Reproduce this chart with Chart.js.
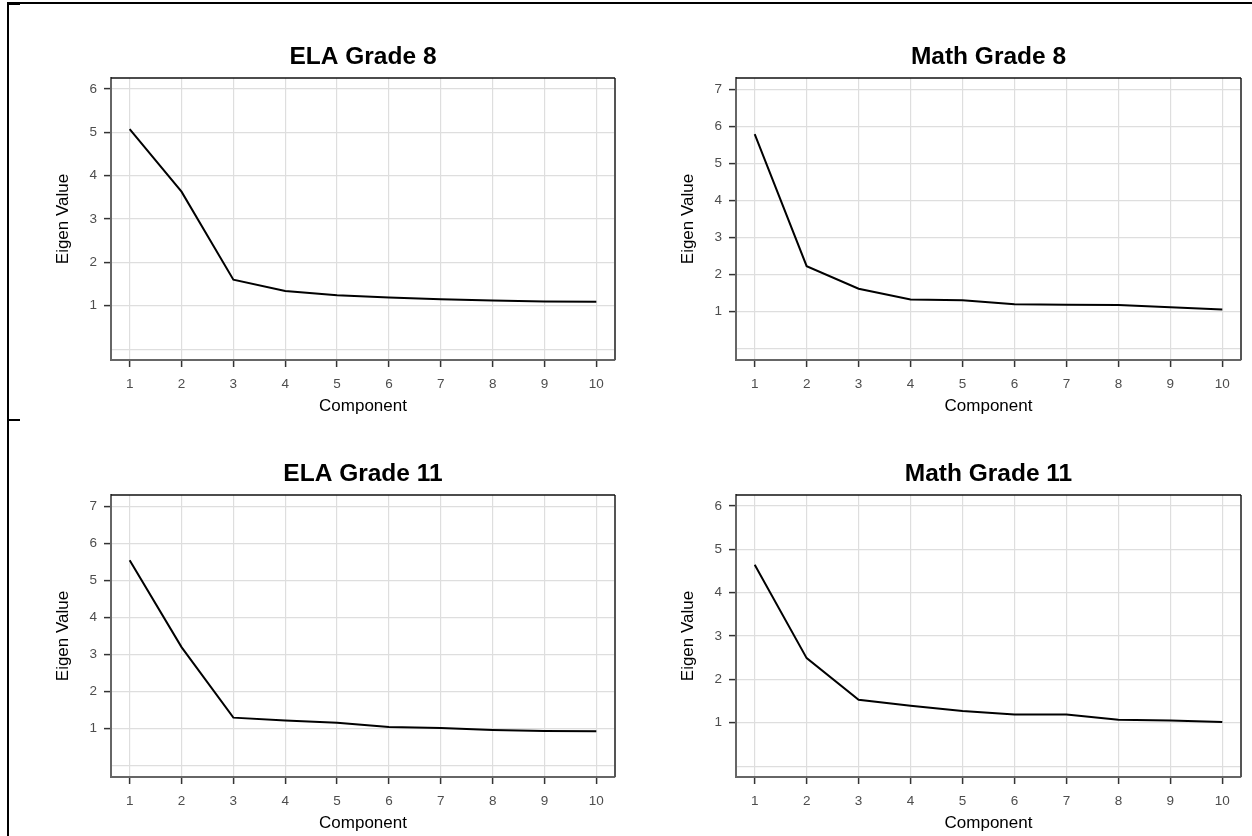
<!DOCTYPE html>
<html>
<head>
<meta charset="utf-8">
<script src="https://cdn.jsdelivr.net/npm/chart.js@4.4.0/dist/chart.umd.min.js"></script>
<style>
  html, body { margin: 0; padding: 0; background: #fff; }
  body { width: 1252px; height: 836px; position: relative; overflow: hidden; }
  canvas { position: absolute; }
  .deco { position: absolute; background: #000; }
</style>
</head>
<body>
<div class="deco" style="left:7px;top:2px;width:1245px;height:1.5px;"></div>
<div class="deco" style="left:7px;top:2px;width:2px;height:834px;"></div>
<div class="deco" style="left:7px;top:2px;width:13px;height:2.5px;"></div>
<div class="deco" style="left:7px;top:419px;width:13px;height:2px;"></div>

<canvas id="c1" width="620" height="400" style="left:20px;top:20px;"></canvas>
<canvas id="c2" width="605" height="400" style="left:645px;top:20px;"></canvas>
<canvas id="c3" width="620" height="400" style="left:20px;top:437px;"></canvas>
<canvas id="c4" width="605" height="400" style="left:645px;top:437px;"></canvas>

<script>
// ---- data ----
const components = [1, 2, 3, 4, 5, 6, 7, 8, 9, 10];
const xTicks = [1, 2, 3, 4, 5, 6, 7, 8, 9, 10];
const yTicksTo6 = [0, 1, 2, 3, 4, 5, 6];
const yTicksTo7 = [0, 1, 2, 3, 4, 5, 6, 7];

const elaGrade8   = [5.07, 3.63, 1.60, 1.34, 1.24, 1.19, 1.15, 1.12, 1.10, 1.09];
const mathGrade8  = [5.79, 2.23, 1.62, 1.33, 1.31, 1.20, 1.19, 1.18, 1.12, 1.06];
const elaGrade11  = [5.54, 3.20, 1.30, 1.22, 1.16, 1.05, 1.02, 0.97, 0.94, 0.93];
const mathGrade11 = [4.64, 2.49, 1.53, 1.39, 1.27, 1.19, 1.19, 1.07, 1.05, 1.02];

const titles = ['ELA Grade 8', 'Math Grade 8', 'ELA Grade 11', 'Math Grade 11'];
const xTitle = 'Component';
const yTitle = 'Eigen Value';

// ---- drawing ----
const FONT = "'Liberation Sans', Arial, sans-serif";

const framePlugin = {
  id: 'frame',
  afterDatasetsDraw(chart) {
    const { ctx, chartArea: a } = chart;
    ctx.save();
    ctx.strokeStyle = '#555';
    ctx.lineWidth = 2;
    ctx.beginPath();
    ctx.moveTo(a.right, a.top);
    ctx.lineTo(a.right, a.bottom);
    ctx.stroke();
    ctx.strokeStyle = '#111';
    ctx.lineWidth = 1.5;
    ctx.beginPath();
    ctx.moveTo(a.left, a.top);
    ctx.lineTo(a.right, a.top);
    ctx.stroke();
    ctx.restore();
  }
};

function makeChart(id, title, values, yTicks, yMin, yMax, padRight) {
  const pts = components.map((c, i) => ({ x: c, y: values[i] }));
  return new Chart(document.getElementById(id), {
    type: 'line',
    data: {
      datasets: [{
        data: pts,
        borderColor: '#000',
        borderWidth: 2,
        pointRadius: 0,
        tension: 0,
        fill: false
      }]
    },
    options: {
      responsive: false,
      animation: false,
      devicePixelRatio: 1,
      layout: { padding: { left: 0, right: padRight, top: 0, bottom: 0 } },
      plugins: {
        legend: { display: false },
        tooltip: { enabled: false },
        title: {
          display: true,
          text: title,
          fullSize: false,
          color: '#000',
          font: { family: FONT, size: 24.5, weight: 'bold' },
          padding: { top: 22.4, bottom: 6.2 }
        }
      },
      scales: {
        x: {
          type: 'linear',
          min: 0.64,
          max: 10.36,
          afterBuildTicks: (s) => { s.ticks = xTicks.map(v => ({ value: v })); },
          afterFit: (s) => { s.height = 60; },
          ticks: {
            color: '#4d4d4d',
            font: { family: FONT, size: 13.5 },
            padding: 9,
            maxRotation: 0,
            autoSkip: false,
            callback: (v) => String(v)
          },
          grid: {
            color: '#dedede',
            lineWidth: 1.2,
            drawTicks: true,
            tickLength: 7,
            tickColor: '#333',
            tickWidth: 1.5
          },
          border: { display: true, color: '#666', width: 2 },
          title: {
            display: true,
            text: xTitle,
            color: '#000',
            font: { family: FONT, size: 17 },
            padding: { top: 0, bottom: 3.8 }
          }
        },
        y: {
          type: 'linear',
          min: yMin,
          max: yMax,
          afterBuildTicks: (s) => { s.ticks = yTicks.map(v => ({ value: v })); },
          afterFit: (s) => { s.width = 91; },
          ticks: {
            color: '#4d4d4d',
            font: { family: FONT, size: 13.5 },
            padding: 7,
            autoSkip: false,
            callback: (v) => (v === 0 ? '' : String(v))
          },
          grid: {
            color: '#dedede',
            lineWidth: 1.2,
            drawTicks: true,
            tickLength: 7,
            tickColor: (ctx) => (ctx.tick && ctx.tick.value === 0 ? 'rgba(0,0,0,0)' : '#333'),
            tickWidth: 1.5
          },
          border: { display: true, color: '#666', width: 2 },
          title: {
            display: true,
            text: yTitle,
            color: '#000',
            font: { family: FONT, size: 17 },
            padding: { top: 33, bottom: 0 }
          }
        }
      }
    },
    plugins: [framePlugin]
  });
}

makeChart('c1', titles[0], elaGrade8,   yTicksTo6, -0.25, 6.25, 25);
makeChart('c2', titles[1], mathGrade8,  yTicksTo7, -0.3,  7.3,  9);
makeChart('c3', titles[2], elaGrade11,  yTicksTo7, -0.3,  7.3,  25);
makeChart('c4', titles[3], mathGrade11, yTicksTo6, -0.25, 6.25, 9);
</script>
</body>
</html>
